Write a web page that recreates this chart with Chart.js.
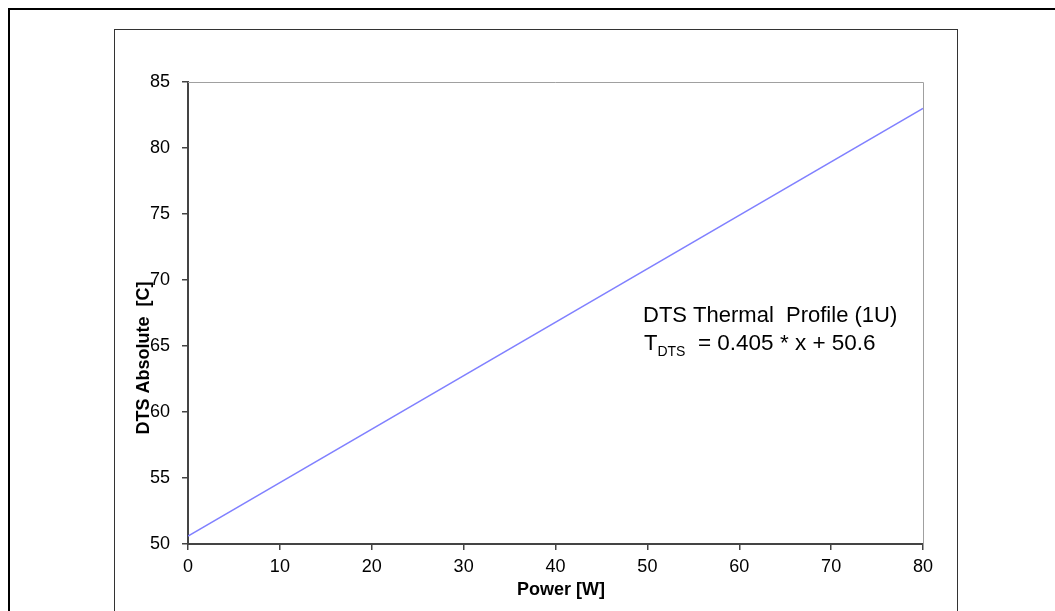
<!DOCTYPE html>
<html>
<head>
<meta charset="utf-8">
<script src="https://cdn.jsdelivr.net/npm/chart.js@4"></script>
<style>
   html, body { margin: 0; padding: 0; background: #fff; overflow: hidden; }
   #outer { position: absolute; left: 8px; top: 8px; width: 1200px; height: 800px; border: 2px solid #000; }
   #inner { position: absolute; left: 114px; top: 29px; width: 842px; height: 800px; border: 1px solid #333; }
   #wrap { position: absolute; left: 0; top: 0; width: 1055px; height: 611px; }
</style>
</head>
<body>
<div id="outer"></div>
<div id="inner"></div>
<div id="wrap"><canvas id="chart" width="1055" height="611"></canvas></div>
<script>
// Данные графика
const power = [0, 80];
const dtsAbsolute = [50.6, 83.0];
const yTicks = [50, 55, 60, 65, 70, 75, 80, 85];
const xTicks = [0, 10, 20, 30, 40, 50, 60, 70, 80];

const font = 'Liberation Sans, Arial, sans-serif';

// Рамка графика, подписи осей и формула
const framePlugin = {
   id: 'frame',
   beforeDatasetsDraw(chart) {
      const { ctx, chartArea: a } = chart;
      ctx.save();
      ctx.strokeStyle = '#a0a0a0';
      ctx.lineWidth = 1;
      ctx.beginPath();
      ctx.moveTo(a.left, a.top + 0.5);
      ctx.lineTo(a.right + 0.5, a.top + 0.5);
      ctx.lineTo(a.right + 0.5, a.bottom);
      ctx.stroke();
      ctx.restore();
   },
   afterDraw(chart) {
      const ctx = chart.ctx;
      ctx.save();
      ctx.fillStyle = '#000';
      ctx.font = 'bold 18px ' + font;
      ctx.textAlign = 'center';
      ctx.textBaseline = 'middle';
      ctx.fillText('Power [W]', 561, 590);
      ctx.translate(144, 358);
      ctx.rotate(-Math.PI / 2);
      ctx.fillText('DTS Absolute  [C]', 0, 0);
      ctx.restore();

      ctx.save();
      ctx.fillStyle = '#000';
      ctx.textAlign = 'left';
      ctx.textBaseline = 'alphabetic';
      ctx.font = '22px ' + font;
      ctx.fillText('DTS Thermal  Profile (1U)', 643, 322);
      let x = 644;
      ctx.fillText('T', x, 350);
      x += ctx.measureText('T').width;
      ctx.font = '14px ' + font;
      ctx.fillText('DTS', x, 356);
      x += ctx.measureText('DTS').width;
      ctx.font = '22.5px ' + font;
      ctx.fillText('  = 0.405 * x + 50.6', x, 350);
      ctx.restore();
   }
};

new Chart(document.getElementById('chart'), {
   type: 'line',
   data: {
      datasets: [{
         label: 'DTS Thermal Profile (1U)',
         data: power.map((p, i) => ({ x: p, y: dtsAbsolute[i] })),
         borderColor: '#8080ff',
         borderWidth: 1.5,
         pointRadius: 0,
         fill: false,
         tension: 0
      }]
   },
   options: {
      responsive: false,
      animation: false,
      layout: { padding: { left: 0, right: 132, top: 82, bottom: 0 } },
      plugins: { legend: { display: false }, tooltip: { enabled: false } },
      scales: {
         x: {
            type: 'linear',
            min: 0,
            max: 80,
            afterFit: (s) => { s.height = 67; },
            afterBuildTicks: (s) => { s.ticks = xTicks.map(v => ({ value: v })); },
            grid: { drawOnChartArea: false, drawTicks: true, tickLength: 6, color: '#444', lineWidth: 1.5 },
            border: { color: '#444', width: 2 },
            ticks: { color: '#000', font: { family: font, size: 18 }, padding: 6, maxRotation: 0 }
         },
         y: {
            min: 50,
            max: 85,
            afterFit: (s) => { s.width = 188; },
            afterBuildTicks: (s) => { s.ticks = yTicks.map(v => ({ value: v })); },
            grid: { drawOnChartArea: false, drawTicks: true, tickLength: 6, color: '#444', lineWidth: 1.5 },
            border: { color: '#444', width: 2 },
            ticks: { color: '#000', font: { family: font, size: 18 }, padding: 12 }
         }
      }
   },
   plugins: [framePlugin]
});
</script>
</body>
</html>
